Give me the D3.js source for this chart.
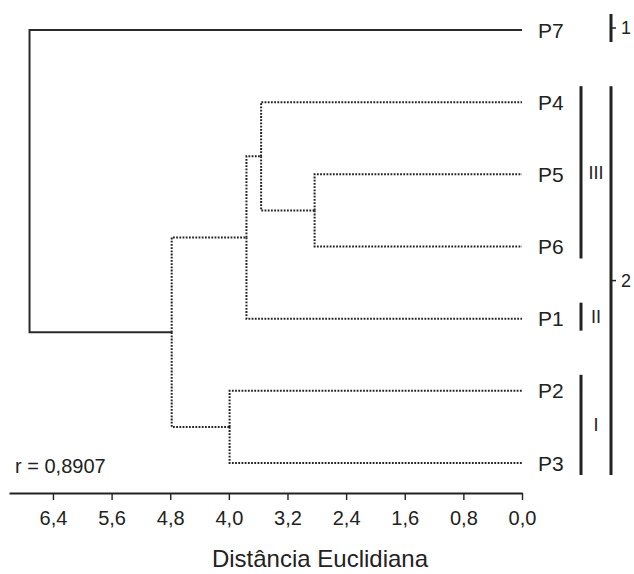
<!DOCTYPE html>
<html>
<head>
<meta charset="utf-8">
<script src="https://cdn.jsdelivr.net/npm/d3@7"></script>
<style>
  body { margin: 0; background: #fff; }
  text { font-family: "Liberation Sans", Arial, Helvetica, sans-serif; fill: #222; }
  .axis path, .axis line { stroke: #222; }
  .axis text { font-size: 20px; }
</style>
</head>
<body>
<script>
// dendrogram data (leaf order top -> bottom, merges like a linkage table)
const leafNames = ['P7', 'P4', 'P5', 'P6', 'P1', 'P2', 'P3'];
const mergeLeft = ['P5', 'P4', 'C2', 'P2', 'C3', 'P7'];
const mergeRight = ['P6', 'C1', 'P1', 'P3', 'C4', 'C5'];
const mergeHeights = [2.83, 3.56, 3.76, 3.99, 4.78, 6.72];

const tickValues = [6.4, 5.6, 4.8, 4.0, 3.2, 2.4, 1.6, 0.8, 0.0];

// groups drawn as brackets on the right
const groupLabels = ['III', 'II', 'I'];
const groupFirst = ['P4', 'P1', 'P2'];
const groupLast = ['P6', 'P1', 'P3'];
const clusterLabels = ['1', '2'];
const clusterFirst = ['P7', 'P4'];
const clusterLast = ['P7', 'P3'];

const corrText = 'r = 0,8907';
const axisTitle = 'Distância Euclidiana';

const WIDTH = 634, HEIGHT = 574;

const svg = d3.select('body').append('svg')
    .attr('width', WIDTH)
    .attr('height', HEIGHT);

const x = d3.scaleLinear().domain([7, 0]).range([9, 522]);
const y = d3.scalePoint().domain(leafNames).range([30, 463]);

// build the tree from the merge table
const nodes = new Map();
leafNames.forEach(n => nodes.set(n, { name: n, height: 0 }));
mergeHeights.forEach((h, i) => {
    nodes.set('C' + (i + 1), {
        name: 'C' + (i + 1),
        height: h,
        children: [nodes.get(mergeLeft[i]), nodes.get(mergeRight[i])]
    });
});
const root = d3.hierarchy(nodes.get('C' + mergeHeights.length));

root.eachAfter(d => {
    d.px = x(d.data.height);
    d.py = d.children ? d3.mean(d.children, c => c.py) : y(d.data.name);
});

// links: vertical at parent x, then horizontal out to child
svg.append('g').selectAll('path')
    .data(root.links())
    .join('path')
    .attr('fill', 'none')
    .attr('stroke', d => d.source.depth === 0 ? '#2a2a2a' : '#222')
    .attr('stroke-width', 2)
    .attr('stroke-dasharray', d => d.source.depth === 0 ? null : '1.8,1.4')
    .attr('d', d => `M${d.source.px},${d.source.py}V${d.target.py}H${d.target.px}`);

// leaf labels
svg.append('g').selectAll('text')
    .data(leafNames)
    .join('text')
    .attr('x', 538)
    .attr('y', d => y(d))
    .attr('dy', '0.36em')
    .style('font-size', '21px')
    .text(d => d);

// brackets
const drawBrackets = (labels, first, last, bx, withTick) => {
    const g = svg.append('g');
    labels.forEach((lab, i) => {
        const y0 = y(first[i]) - 16, y1 = y(last[i]) + 12;
        g.append('line')
            .attr('x1', bx).attr('x2', bx)
            .attr('y1', y0).attr('y2', y1)
            .attr('stroke', '#222')
            .attr('stroke-width', 3);
        const ym = (y0 + y1) / 2;
        if (withTick) {
            g.append('line')
                .attr('x1', bx).attr('x2', bx + 5)
                .attr('y1', ym).attr('y2', ym)
                .attr('stroke', '#222')
                .attr('stroke-width', 1.5);
        }
        g.append('text')
            .attr('x', withTick ? bx + 10 : bx + 15)
            .attr('y', ym)
            .attr('dy', '0.36em')
            .attr('text-anchor', withTick ? 'start' : 'middle')
            .style('font-size', '18px')
            .text(lab);
    });
};
drawBrackets(groupLabels, groupFirst, groupLast, 581, false);
drawBrackets(clusterLabels, clusterFirst, clusterLast, 611, true);

// axis
const fmt = d3.formatLocale({ decimal: ',', thousands: '.', grouping: [3], currency: ['', ''] }).format('.1f');
const axis = d3.axisBottom(x)
    .tickValues(tickValues)
    .tickFormat(fmt)
    .tickSize(7)
    .tickSizeOuter(0)
    .tickPadding(11);

const axisGroup = svg.append('g')
    .attr('class', 'axis')
    .attr('transform', 'translate(0,493)')
    .call(axis);
axisGroup.select('.domain').attr('stroke-width', 1.8);
axisGroup.selectAll('.tick line').attr('stroke-width', 1.4);
axisGroup.selectAll('.tick text').attr('fill', '#222');

svg.append('text')
    .attr('x', 15)
    .attr('y', 473)
    .style('font-size', '20px')
    .text(corrText);

svg.append('text')
    .attr('x', 320)
    .attr('y', 567)
    .attr('text-anchor', 'middle')
    .style('font-size', '24px')
    .text(axisTitle);
</script>
</body>
</html>
